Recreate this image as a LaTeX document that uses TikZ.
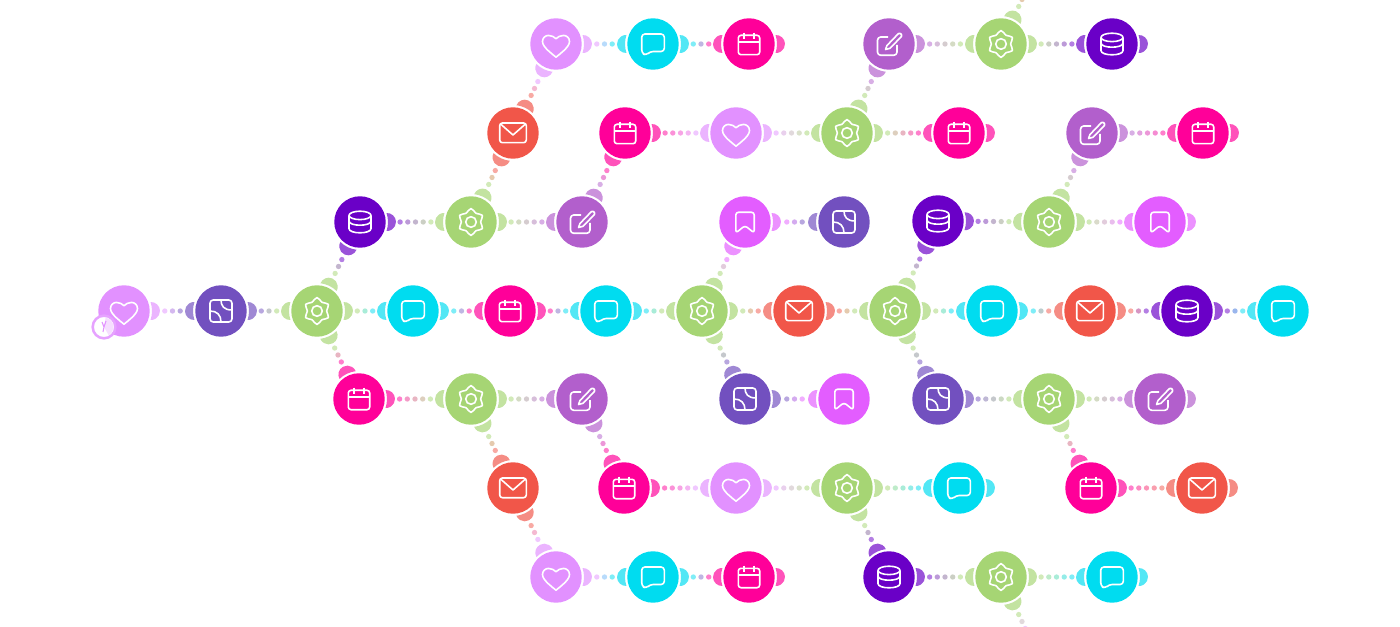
\documentclass[tikz,border=0pt]{standalone}
\usetikzlibrary{calc}

\definecolor{colh}{HTML}{E291FF}
\definecolor{cols}{HTML}{7250BF}
\definecolor{colg}{HTML}{A6D574}
\definecolor{colc}{HTML}{00DCF0}
\definecolor{colk}{HTML}{FF0099}
\definecolor{colm}{HTML}{F15649}
\definecolor{cold}{HTML}{6A00C7}
\definecolor{cole}{HTML}{B25FCC}
\definecolor{colb}{HTML}{E35DFF}

% icons, drawn round the middle of their node
\newcommand{\iconheart}{\draw[iconline] (0,13.2) .. controls (-5,9) and (-13.5,3) .. (-13.5,-2.5) .. controls (-13.5,-6) and (-10.8,-8.6) .. (-7.5,-8.6) .. controls (-4.5,-8.6) and (-1.5,-7) .. (0,-5.2) .. controls (1.5,-7) and (4.5,-8.6) .. (7.5,-8.6) .. controls (10.8,-8.6) and (13.5,-6) .. (13.5,-2.5) .. controls (13.5,3) and (5,9) .. (0,13.2) -- cycle;}
\newcommand{\iconsheet}{\draw[iconline,rounded corners=2.4pt] (-11,-11) rectangle (11,11);
	\draw[iconline] (0,-11) .. controls (0,-5) and (3,-1) .. (11,-1);
	\draw[iconline] (-11,0) .. controls (-4,0) and (0,4) .. (0,11);}
\newcommand{\icongear}{\draw[iconline] plot[smooth cycle,tension=.8] coordinates {(-90:13.4) (-60:10) (-30:13.2) (0:9.6) (30:13.2) (60:10) (90:13.4) (120:10) (150:13.2) (180:9.6) (210:13.2) (240:10)};
	\draw[iconline] (0,0) circle[radius=5.3];}
\newcommand{\iconchat}{\draw[iconline,rounded corners=2.4pt] (0,-10) -- (11.3,-10) -- (11.3,7.5) -- (-3,7.5) -- (-7,11.5) -- (-11.3,9) -- (-11.3,-10) -- cycle;}
\newcommand{\iconcal}{\draw[iconline,rounded corners=2pt] (-10.7,-8.7) rectangle (10.7,10.7);
	\draw[iconline] (-10.7,-2) -- (10.7,-2) (-5,-11.3) -- (-5,-4.8) (5,-11.3) -- (5,-4.8);}
\newcommand{\iconmail}{\draw[iconline,rounded corners=2pt] (-13.3,-10) rectangle (13.3,9.7);
	\draw[iconline] (-12.5,-9) -- (0,2) -- (12.5,-9);}
\newcommand{\icondb}{\draw[iconline] (0,-6.6) ellipse[x radius=11,y radius=4.2];
	\draw[iconline] (-11,-6.6) -- (-11,6.6) .. controls (-11,12.2) and (11,12.2) .. (11,6.6) -- (11,-6.6);
	\draw[iconline] (-11,-1) .. controls (-11,4.6) and (11,4.6) .. (11,-1);}
\newcommand{\iconedit}{\draw[iconline,rounded corners=2.4pt] (-1,-7) -- (-11.5,-7) -- (-11.5,11.3) -- (8,11.3) -- (8,1);
	\draw[iconline,line join=round] (-3.5,5.5) -- (-2,1.5) -- (9,-10) .. controls (10,-11) and (11,-11) .. (12,-10) .. controls (13,-9) and (13,-8) .. (12,-7) -- (1,4.3) -- cycle;}
\newcommand{\iconmark}{\draw[iconline,rounded corners=2pt] (0,-9.7) -- (9.2,-9.7) -- (9.2,11) -- (0,3.6) -- (-9.2,11) -- (-9.2,-9.7) -- cycle;}

\tikzset{
	iconline/.style={white,line width=1.2pt,line join=round},
	icon/.style={path picture={\begin{scope}[shift={(path picture bounding box.center)}]#1\end{scope}}},
	modnode/.style={circle,minimum size=38.6pt,inner sep=0pt,fill=#1},
	heartnode/.style={modnode=colh,icon=\iconheart},
	sheetnode/.style={modnode=cols,icon=\iconsheet},
	gearnode/.style={modnode=colg,icon=\icongear},
	chatnode/.style={modnode=colc,icon=\iconchat},
	calnode/.style={modnode=colk,icon=\iconcal},
	mailnode/.style={modnode=colm,icon=\iconmail},
	dbnode/.style={modnode=cold,icon=\icondb},
	editnode/.style={modnode=cole,icon=\iconedit},
	marknode/.style={modnode=colb,icon=\iconmark},
	dotnode/.style={circle,minimum size=4pt,inner sep=0pt,opacity=.5},
	bump/.pic={\fill[#1,opacity=.68] (-18.7:28) arc[start angle=-93,end angle=93,radius=9] arc[start angle=18.7,end angle=-18.7,radius=28] -- cycle;},
}

% [half the dots]{from}{to}{colour from}{colour to}
\newcommand{\lnk}[5][1]{
	\path (#2.center) -- (#3.center) pic[pos=0,sloped]{bump=col#4} pic[pos=1,sloped,rotate=180]{bump=col#5};
	\foreach \k [evaluate=\k as \t using int(50-50*\k/#1)] in {-#1,...,#1}
		\node[dotnode,fill=col#4!\t!col#5] at ($(#2.center)!.5!(#3.center)!\k*5.775pt!(#3.center)$) {};
}

\begin{document}
\begin{tikzpicture}[x=.75pt,y=-.75pt]
	\path[clip,use as bounding box] (0,0) rectangle (1400,627);

	\foreach \n/\x/\y in {h1/124/311,h2/556/44,h3/736/133,h4/736/488,h5/556/577}
		\node[heartnode] (\n) at (\x,\y) {};
	\foreach \n/\x/\y in {s1/221/311,s2/844/222,s3/745/399,s4/938/399}
		\node[sheetnode] (\n) at (\x,\y) {};
	\foreach \n/\x/\y in {g1/317/311,g2/702/311,g3/895/311,g4/471/222,g5/471/399,g6/847/133,g7/1001/44,g8/1049/222,g9/1049/399,g10/847/488,g11/1001/577}
		\node[gearnode] (\n) at (\x,\y) {};
	\foreach \n/\x/\y in {c1/413/311,c2/606/311,c3/992/311,c4/1283/311,c5/653/44,c6/959/488,c7/653/577,c8/1112/577}
		\node[chatnode] (\n) at (\x,\y) {};
	\foreach \n/\x/\y in {k1/510/311,k2/749/44,k3/625/133,k4/959/133,k5/1203/133,k6/359/399,k7/624/488,k8/1091/488,k9/749/577}
		\node[calnode] (\n) at (\x,\y) {};
	\foreach \n/\x/\y in {m1/799/311,m2/1090/311,m3/513/133,m4/513/488,m5/1202/488}
		\node[mailnode] (\n) at (\x,\y) {};
	\foreach \n/\x/\y in {d1/1187/311,d2/360/222,d3/938/221,d4/1112/44,d5/889/577}
		\node[dbnode] (\n) at (\x,\y) {};
	\foreach \n/\x/\y in {e1/582/222,e2/889/44,e3/1092/133,e4/582/399,e5/1160/399}
		\node[editnode] (\n) at (\x,\y) {};
	\foreach \n/\x/\y in {b1/745/222,b2/1160/222,b3/844/399}
		\node[marknode] (\n) at (\x,\y) {};

	% the two that run off the page
	\coordinate (upend) at (1043,-45);
	\coordinate (downend) at (1043,666);

	\foreach \a/\ca/\b/\cb in {h1/h/s1/s,s1/s/g1/g,g1/g/c1/c,c1/c/k1/k,k1/k/c2/c,c2/c/g2/g,g2/g/m1/m,m1/m/g3/g,g3/g/c3/c,c3/c/m2/m,m2/m/d1/d,d1/d/c4/c,
		g1/g/d2/d,g1/g/k6/k,g4/g/m3/m,m3/m/h2/h,h2/h/c5/c,c5/c/k2/k,e1/e/k3/k,g6/g/e2/e,g7/g/upend/m,g2/g/b1/b,b1/b/s2/s,g2/g/s3/s,s3/s/b3/b,
		g3/g/d3/d,g3/g/s4/s,g8/g/e3/e,g9/g/k8/k,g5/g/m4/m,m4/m/h5/h,h5/h/c7/c,c7/c/k9/k,e4/e/k7/k,g10/g/d5/d,g11/g/downend/h}
		\lnk{\a}{\b}{\ca}{\cb};
	\foreach \a/\ca/\b/\cb in {d2/d/g4/g,g4/g/e1/e,k3/k/h3/h,h3/h/g6/g,g6/g/k4/k,e2/e/g7/g,g7/g/d4/d,d3/d/g8/g,g8/g/b2/b,e3/e/k5/k,
		s4/s/g9/g,g9/g/e5/e,k6/k/g5/g,g5/g/e4/e,k7/k/h4/h,h4/h/g10/g,g10/g/c6/c,k8/k/m5/m,d5/d/g11/g,g11/g/c8/c}
		\lnk[2]{\a}{\b}{\ca}{\cb};

	% ends with nothing after them
	\foreach \n/\c in {k2/k,k4/k,k5/k,k9/k,d4/d,b2/b,e5/e,m5/m,c6/c,c8/c}
		\pic at (\n.center) {bump=col\c};

	% little clock on the first one
	\node[circle,draw=colh!85!white,line width=1.9pt,fill=white,minimum size=17pt,inner sep=0pt] (clock) at (104,327) {};
	\fill[colh!30!white] (clock.center) -- ++(-80:9.5) arc[start angle=-80,end angle=60,radius=9.5] -- cycle;
	\draw[colh,line width=.8pt] (clock.center) -- ++(2,-6) (clock.center) -- ++(-2,-5) (clock.center) -- ++(-1,5);
\end{tikzpicture}
\end{document}
